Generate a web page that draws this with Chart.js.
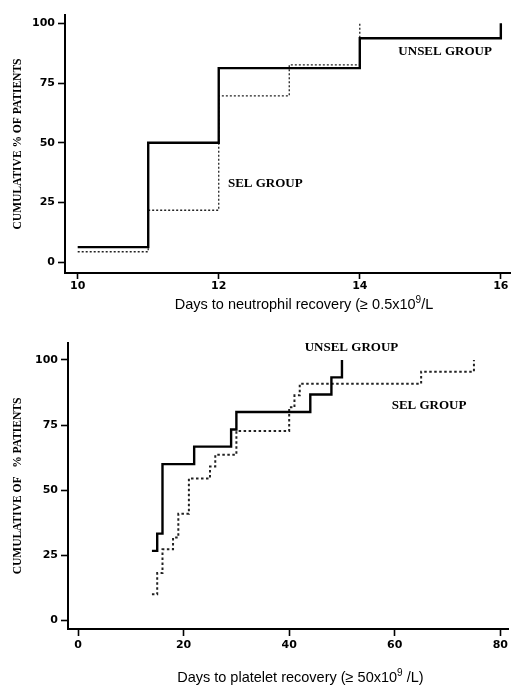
<!DOCTYPE html>
<html>
<head>
<meta charset="utf-8">
<script src="https://cdn.jsdelivr.net/npm/chart.js@4/dist/chart.umd.min.js"></script>
<style>
  html, body { margin: 0; padding: 0; background: #fff; }
  #wrap { position: relative; width: 511px; height: 686px; overflow: hidden; }
  #neutChart { position: absolute; left: 0; top: 0; }
  #plateletChart { position: absolute; left: 0; top: 320px; }
</style>
</head>
<body>
<div id="wrap">
  <canvas id="neutChart" width="511" height="320"></canvas>
  <canvas id="plateletChart" width="511" height="366"></canvas>
</div>
<script>
// Neutrophil recovery (top panel)
const neutDaysUnsel = [10, 11, 12, 14, 16];
const neutPctUnsel = [6.25, 50, 81.25, 93.75, 100];
const neutDaysSel = [10, 11, 12, 13, 14];
const neutPctSel = [4.3, 21.7, 69.6, 82.6, 100];
const neutTicksX = [10, 12, 14, 16];

// Platelet recovery (bottom panel)
const pltDaysUnsel = [14, 15, 16, 22, 29, 30, 44, 48, 50];
const pltPctUnsel = [26.7, 33.3, 60, 66.7, 73.3, 80, 86.7, 93.3, 100];
const pltDaysSel = [14, 15, 16, 18, 19, 21, 25, 26, 30, 40, 41, 42, 65, 75];
const pltPctSel = [10, 18.2, 27.3, 31.8, 40.9, 54.5, 59.1, 63.6, 72.7, 81.8, 86.4, 90.9, 95.5, 100];
const pltTicksX = [0, 20, 40, 60, 80];

const pctTicksY = [0, 25, 50, 75, 100];

const toPoints = (xs, ys) => xs.map((x, i) => ({ x: x, y: ys[i] }));

// draws the group labels and the x axis title (with the superscript 9)
const overlayText = {
    id: 'overlayText',
    afterDraw(chart, args, opts) {
        const ctx = chart.ctx;
        const area = chart.chartArea;
        ctx.save();
        ctx.fillStyle = '#000';
        ctx.textBaseline = 'middle';
        ctx.textAlign = 'center';
        ctx.font = 'bold 13px "Liberation Serif", "Times New Roman", serif';
        (opts.groups || []).forEach(g => {
            ctx.fillText(g.text, chart.scales.x.getPixelForValue(g.x), chart.scales.y.getPixelForValue(g.y));
        });
        if (opts.xTitle) {
            const t = opts.xTitle;
            const mainFont = '14.5px "Liberation Sans", Arial, sans-serif';
            const supFont = '10px "Liberation Sans", Arial, sans-serif';
            ctx.textAlign = 'left';
            let total = 0;
            t.parts.forEach(p => {
                ctx.font = p.sup ? supFont : mainFont;
                total += ctx.measureText(p.text).width;
            });
            let x = (area.left + area.right) / 2 + t.dx - total / 2;
            const y = area.bottom + t.dy;
            t.parts.forEach(p => {
                ctx.font = p.sup ? supFont : mainFont;
                ctx.fillText(p.text, x, p.sup ? y - 5 : y);
                x += ctx.measureText(p.text).width;
            });
        }
        ctx.restore();
    }
};

const tickFont = { family: 'DejaVu Sans', weight: 'bold', size: 11 };

function makeScales(xMin, xMax, xTicks, yMin, yMax, yTitle, yWidth, xHeight, xTickLen, xTickPad) {
    return {
        x: {
            type: 'linear',
            min: xMin,
            max: xMax,
            afterFit: s => { s.height = xHeight; },
            afterBuildTicks: s => { s.ticks = xTicks.map(v => ({ value: v })); },
            border: { color: '#000', width: 2 },
            grid: { drawOnChartArea: false, tickLength: xTickLen, tickWidth: 1.6, tickColor: '#000' },
            ticks: { color: '#000', padding: xTickPad, maxRotation: 0, font: tickFont }
        },
        y: {
            min: yMin,
            max: yMax,
            afterFit: s => { s.width = yWidth; },
            afterBuildTicks: s => { s.ticks = pctTicksY.map(v => ({ value: v })); },
            border: { color: '#000', width: 2 },
            grid: { drawOnChartArea: false, tickLength: 7, tickWidth: 1.6, tickColor: '#000' },
            ticks: { color: '#000', padding: 3, font: tickFont },
            title: {
                display: true,
                text: yTitle,
                color: '#000',
                padding: { top: 11, bottom: 0 },
                font: { family: '"Liberation Serif", "Times New Roman", serif', weight: 'bold', size: 11.5 }
            }
        }
    };
}

// Top chart: neutrophils
const neutCtx = document.getElementById('neutChart').getContext('2d');
const neutChart = new Chart(neutCtx, {
    type: 'line',
    data: {
        datasets: [{
            label: 'UNSEL GROUP',
            data: toPoints(neutDaysUnsel, neutPctUnsel),
            borderColor: '#000',
            borderWidth: 2.4,
            stepped: 'before',
            pointRadius: 0,
            fill: false
        }, {
            label: 'SEL GROUP',
            data: toPoints(neutDaysSel, neutPctSel),
            borderColor: '#222',
            borderWidth: 1.3,
            borderDash: [2, 2],
            stepped: 'before',
            pointRadius: 0,
            fill: false
        }]
    },
    options: {
        responsive: false,
        animation: false,
        layout: { padding: { top: 15, right: 1, left: 0, bottom: 0 } },
        plugins: {
            legend: { display: false },
            tooltip: { enabled: false },
            overlayText: {
                groups: [
                    { text: 'UNSEL GROUP', x: 15.21, y: 88 },
                    { text: 'SEL GROUP', x: 12.66, y: 33 }
                ],
                xTitle: {
                    dx: 16.5, dy: 32,
                    parts: [
                        { text: 'Days to neutrophil recovery (\u2265 0.5x10' },
                        { text: '9', sup: true },
                        { text: '/L' }
                    ]
                }
            }
        },
        scales: makeScales(9.82, 16.13, neutTicksX, -4.6, 103.5, 'CUMULATIVE % OF PATIENTS', 65, 47, 6, 1)
    },
    plugins: [overlayText]
});

// Bottom chart: platelets
const pltCtx = document.getElementById('plateletChart').getContext('2d');
const plateletChart = new Chart(pltCtx, {
    type: 'line',
    data: {
        datasets: [{
            label: 'UNSEL GROUP',
            data: toPoints(pltDaysUnsel, pltPctUnsel),
            borderColor: '#000',
            borderWidth: 2.4,
            stepped: 'before',
            pointRadius: 0,
            fill: false
        }, {
            label: 'SEL GROUP',
            data: toPoints(pltDaysSel, pltPctSel),
            borderColor: '#222',
            borderWidth: 2,
            borderDash: [2.5, 2.5],
            stepped: 'before',
            pointRadius: 0,
            fill: false
        }]
    },
    options: {
        responsive: false,
        animation: false,
        layout: { padding: { top: 23, right: 1, left: 0, bottom: 0 } },
        plugins: {
            legend: { display: false },
            tooltip: { enabled: false },
            overlayText: {
                groups: [
                    { text: 'UNSEL GROUP', x: 51.8, y: 104.6 },
                    { text: 'SEL GROUP', x: 66.5, y: 82.4 }
                ],
                xTitle: {
                    dx: 12, dy: 49,
                    parts: [
                        { text: 'Days to platelet recovery (\u2265 50x10' },
                        { text: '9', sup: true },
                        { text: ' /L)' }
                    ]
                }
            }
        },
        scales: makeScales(-1.9, 81.6, pltTicksX, -3.3, 106.5, 'CUMULATIVE OF   % PATIENTS', 68, 57, 7, 3)
    },
    plugins: [overlayText]
});
</script>
</body>
</html>
